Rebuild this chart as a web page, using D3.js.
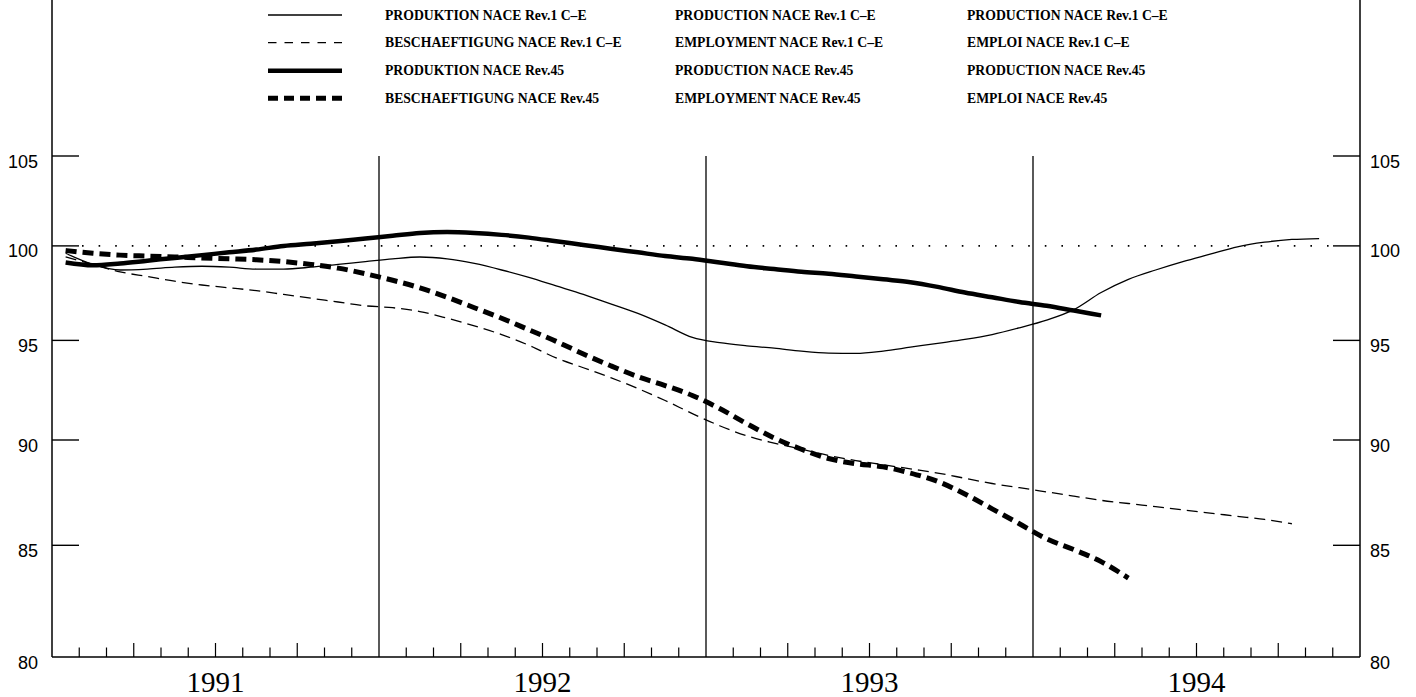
<!DOCTYPE html>
<html><head><meta charset="utf-8">
<script src="https://cdn.jsdelivr.net/npm/d3@7"></script>
<style>body{margin:0;background:#fff}svg{display:block}</style>
</head><body><svg id="c" width="1416" height="697"></svg>
<script>
// Monthly index values, starting January 1991
const prodRev1 = [99.6,99.0,98.7,98.75,98.85,98.9,98.85,98.75,98.75,98.85,99.0,99.15,
  99.3,99.4,99.3,99.05,98.7,98.3,97.85,97.4,96.9,96.4,95.8,95.15,
  94.88,94.72,94.6,94.45,94.35,94.33,94.45,94.65,94.85,95.05,95.3,95.65,
  96.05,96.6,97.5,98.2,98.7,99.15,99.55,99.95,100.2,100.35,100.4];
const empRev1 = [99.4,99.0,98.6,98.35,98.1,97.9,97.75,97.6,97.4,97.2,97.0,96.8,
  96.7,96.5,96.15,95.75,95.3,94.75,94.1,93.6,93.1,92.55,91.95,91.3,
  90.7,90.2,89.85,89.55,89.25,89.0,88.8,88.6,88.4,88.15,87.9,87.7,
  87.5,87.3,87.1,86.95,86.8,86.65,86.5,86.35,86.2,86.0];
const prodRev45 = [99.1,98.95,99.05,99.2,99.35,99.5,99.65,99.8,100.0,100.12,100.25,100.4,
  100.55,100.7,100.75,100.7,100.6,100.45,100.25,100.05,99.85,99.65,99.45,99.3,
  99.1,98.9,98.75,98.6,98.5,98.35,98.2,98.05,97.8,97.5,97.25,97.0,
  96.8,96.55,96.3];
const empRev45 = [99.75,99.6,99.5,99.45,99.4,99.35,99.3,99.25,99.15,99.0,98.8,98.5,
  98.15,97.75,97.25,96.7,96.15,95.55,94.95,94.3,93.7,93.15,92.7,92.2,
  91.55,90.8,90.1,89.55,89.1,88.85,88.7,88.4,88.0,87.4,86.7,86.0,
  85.3,84.8,84.25,83.5];

const yearLabels = ["1991","1992","1993","1994"];
const yTickValues = [80,85,90,95,100,105];
const legendDE = ["PRODUKTION NACE Rev.1 C\u2013E","BESCHAEFTIGUNG NACE Rev.1 C\u2013E","PRODUKTION NACE Rev.45","BESCHAEFTIGUNG NACE Rev.45"];
const legendEN = ["PRODUCTION NACE Rev.1 C\u2013E","EMPLOYMENT NACE Rev.1 C\u2013E","PRODUCTION NACE Rev.45","EMPLOYMENT NACE Rev.45"];
const legendFR = ["PRODUCTION NACE Rev.1 C\u2013E","EMPLOI NACE Rev.1 C\u2013E","PRODUCTION NACE Rev.45","EMPLOI NACE Rev.45"];

const series = [
  {values: prodRev1, width: 1.3, dash: null},
  {values: empRev1, width: 1.3, dash: "11,6"},
  {values: prodRev45, width: 4.5, dash: null},
  {values: empRev45, width: 5, dash: "11,6"}
];

const svg = d3.select("#c");
const x = d3.scaleLinear().domain([0, 48]).range([52, 1360]);
const y = d3.scaleLog().domain([80, 105]).range([657, 156]);
const ink = "#000";

// frame: left & right axes full height, bottom axis
svg.append("line").attr("x1", x(0)).attr("x2", x(0)).attr("y1", 0).attr("y2", y(80)).attr("stroke", ink).attr("stroke-width", 1.5);
svg.append("line").attr("x1", x(48)).attr("x2", x(48)).attr("y1", 0).attr("y2", y(80)).attr("stroke", ink).attr("stroke-width", 1.5);
svg.append("line").attr("x1", x(0)).attr("x2", x(48)).attr("y1", y(80)).attr("y2", y(80)).attr("stroke", ink).attr("stroke-width", 1.5);

// month ticks (quarters longer)
const mt = d3.range(1, 48).filter(m => m % 12 !== 0);
svg.append("g").selectAll("line").data(mt).join("line")
  .attr("x1", d => x(d)).attr("x2", d => x(d))
  .attr("y1", y(80)).attr("y2", d => y(80) - (d % 3 === 0 ? 14 : 9.5))
  .attr("stroke", ink).attr("stroke-width", 1.2);

// year boundary lines
svg.append("g").selectAll("line").data([12, 24, 36]).join("line")
  .attr("x1", d => x(d)).attr("x2", d => x(d))
  .attr("y1", y(105)).attr("y2", y(80))
  .attr("stroke", ink).attr("stroke-width", 1.3);

// year labels
svg.append("g").selectAll("text").data(yearLabels).join("text")
  .attr("x", (d, i) => x(i * 12 + 6)).attr("y", 692)
  .attr("text-anchor", "middle")
  .attr("font-family", "Liberation Serif, serif").attr("font-size", 29)
  .attr("fill", ink).text(d => d);

// y ticks both sides
const yt = yTickValues.filter(v => v !== 80);
svg.append("g").selectAll("line").data(yt).join("line")
  .attr("x1", x(0)).attr("x2", x(0) + 27).attr("y1", d => y(d)).attr("y2", d => y(d))
  .attr("stroke", ink).attr("stroke-width", 1.4);
svg.append("g").selectAll("line").data(yt).join("line")
  .attr("x1", x(48) - 27).attr("x2", x(48)).attr("y1", d => y(d)).attr("y2", d => y(d))
  .attr("stroke", ink).attr("stroke-width", 1.4);
svg.append("g").selectAll("text").data(yTickValues).join("text")
  .attr("x", 38).attr("y", d => y(d) + 11.5).attr("text-anchor", "end")
  .attr("font-family", "Liberation Sans, Arial, sans-serif").attr("font-size", 18)
  .attr("fill", ink).text(d => d);
svg.append("g").selectAll("text").data(yTickValues).join("text")
  .attr("x", 1370).attr("y", d => y(d) + 11.5).attr("text-anchor", "start")
  .attr("font-family", "Liberation Sans, Arial, sans-serif").attr("font-size", 18)
  .attr("fill", ink).text(d => d);

// dotted reference at 100
svg.append("line").attr("x1", x(0) + 30).attr("x2", x(48) - 30).attr("y1", y(100)).attr("y2", y(100))
  .attr("stroke", ink).attr("stroke-width", 1.6).attr("stroke-dasharray", "1.6,15");

// series
const line = d3.line().x((d, i) => x(i + 0.5)).y(d => y(d)).curve(d3.curveMonotoneX);
svg.append("g").selectAll("path").data(series).join("path")
  .attr("d", d => line(d.values))
  .attr("fill", "none").attr("stroke", ink)
  .attr("stroke-width", d => d.width)
  .attr("stroke-dasharray", d => d.dash)
  .attr("stroke-linejoin", "round");

// legend
const rowY = [15, 42.7, 70.7, 98.3];
const lg = svg.append("g");
lg.selectAll("line").data(series).join("line")
  .attr("x1", 268).attr("x2", 342).attr("y1", (d, i) => rowY[i]).attr("y2", (d, i) => rowY[i])
  .attr("stroke", ink).attr("stroke-width", d => d.width)
  .attr("stroke-dasharray", d => d.dash ? (d.width > 2 ? "10,6" : "8.5,8") : null);
[[legendDE, 385], [legendEN, 675], [legendFR, 967]].forEach(([labels, lx]) => {
  lg.append("g").selectAll("text").data(labels).join("text")
    .attr("x", lx).attr("y", (d, i) => rowY[i] + 4.5)
    .attr("font-family", "Liberation Serif, serif").attr("font-weight", "bold")
    .attr("font-size", 13.7).attr("fill", ink).text(d => d);
});
</script></body></html>
